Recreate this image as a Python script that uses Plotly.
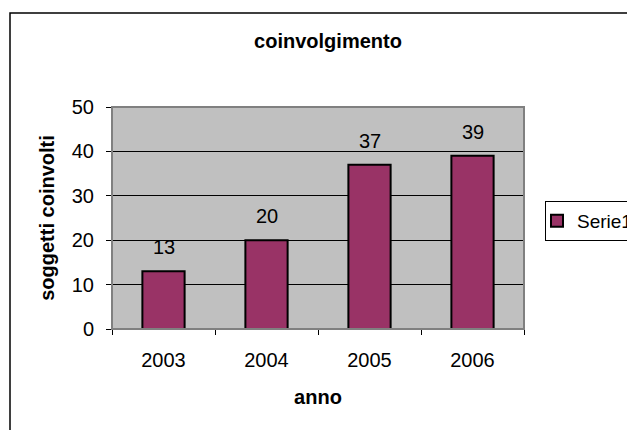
import plotly.graph_objects as go

anni = ['2003', '2004', '2005', '2006']
soggetti = [13, 20, 37, 39]
y_ticks = [0, 10, 20, 30, 40, 50]

FONT = 'Liberation Sans, Arial, sans-serif'
BAR = '#993366'

# la pagina ha un margine di 8px: le posizioni sono riferite alla figura
# la figura è più larga della finestra, così la legenda non restringe il grafico
W, H = 700, 430
L, R, T, B = 104, 700 - 516, 99, 109
PW, PH = W - L - R, H - T - B

fig = go.Figure(go.Bar(
    x=anni, y=soggetti, name='Serie1',
    marker=dict(color=BAR, line=dict(color='black', width=2)),
    width=0.41,
))

# etichette dati sopra le barre (indice di categoria)
for i, v in enumerate(soggetti):
    fig.add_annotation(x=i, y=v, text=str(v), showarrow=False,
                       yshift=24, font=dict(size=20, color='black', family=FONT))

fig.update_layout(
    width=W, height=H,
    paper_bgcolor='white', plot_bgcolor='#C0C0C0',
    font=dict(family=FONT, color='black', size=20),
    margin=dict(l=L, r=R, t=T, b=B),
    title=dict(text='<b>coinvolgimento</b>', xref='container', x=320 / W,
               xanchor='center', y=1 - 33 / H, yanchor='middle',
               font=dict(size=20)),
    showlegend=True,
    legend=dict(x=(537 - L) / PW, y=(321 - 193) / PH, xanchor='left', yanchor='top',
                bordercolor='black', borderwidth=1, bgcolor='white',
                font=dict(size=19), itemwidth=30, indentation=-9),
    xaxis=dict(
        type='category', range=[-0.5, len(anni) - 0.5], showgrid=False,
        ticks='outside', ticklen=5, tickcolor='black',
        tickson='boundaries', tickangle=0, ticklabelstandoff=13,
        showline=True, linecolor='black', linewidth=1,
        title=dict(text='<b>anno</b>', font=dict(size=20), standoff=19),
        tickfont=dict(size=20),
    ),
    yaxis=dict(
        range=[0, 50], tickvals=y_ticks,
        gridcolor='black', gridwidth=1,
        ticks='outside', ticklen=5, tickcolor='black', ticklabelstandoff=8,
        showline=True, linecolor='black', linewidth=1,
        zeroline=False,
        title=dict(text='<b>soggetti coinvolti</b>', font=dict(size=20), standoff=11),
        tickfont=dict(size=20),
    ),
    shapes=[
        dict(type='rect', xref='paper', yref='paper', x0=0, x1=1, y0=0, y1=1,
             line=dict(color='#808080', width=2), layer='above'),
        dict(type='rect', xref='paper', yref='paper',
             x0=(2 - L) / PW, x1=(690 - L) / PW,
             y0=(321 - 470) / PH, y1=(321 - 5) / PH,
             line=dict(color='black', width=1.5)),
    ],
)

fig.write_html('out.html')
